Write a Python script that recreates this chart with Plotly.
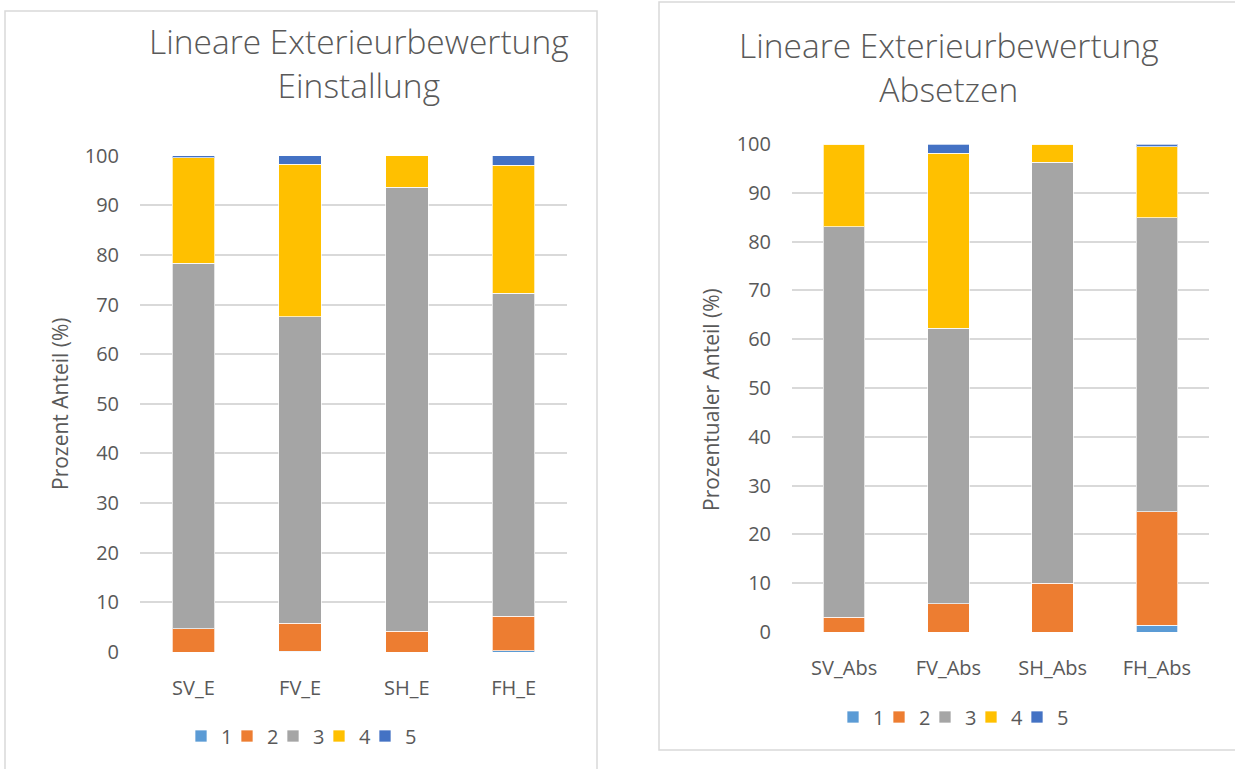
import plotly.graph_objects as go

W, H = 1235, 769

# ---------------- data ----------------
series_names = ["1", "2", "3", "4", "5"]
colors = ["#5B9BD5", "#ED7D31", "#A5A5A5", "#FFC000", "#4472C4"]

cats_left = ["SV_E", "FV_E", "SH_E", "FH_E"]
left_1 = [0.0, 0.2, 0.0, 0.3]
left_2 = [4.7, 5.6, 4.2, 6.95]
left_3 = [73.6, 61.8, 89.4, 65.05]
left_4 = [21.3, 30.7, 6.4, 25.8]
left_5 = [0.4, 1.7, 0.0, 1.9]

cats_right = ["SV_Abs", "FV_Abs", "SH_Abs", "FH_Abs"]
right_1 = [0.0, 0.0, 0.0, 1.4]
right_2 = [3.0, 5.8, 10.0, 23.25]
right_3 = [80.05, 56.4, 86.25, 60.25]
right_4 = [16.95, 35.9, 3.75, 14.5]
right_5 = [0.0, 1.9, 0.0, 0.6]

y_ticks = [0, 10, 20, 30, 40, 50, 60, 70, 80, 90, 100]

title_left = "Lineare Exterieurbewertung<br>Einstallung"
title_right = "Lineare Exterieurbewertung<br>Absetzen"
ytitle_left = "Prozent Anteil (%)"
ytitle_right = "Prozentualer Anteil (%)"

# ---------------- figure ----------------
FONT = "Open Sans"
TXT = "#595959"
GRID = "#D9D9D9"


def px_x(x):
    return x / W


def px_y(y):
    return 1 - y / H


fig = go.Figure()

left_vals = [left_1, left_2, left_3, left_4, left_5]
right_vals = [right_1, right_2, right_3, right_4, right_5]

bar_line = dict(color="rgba(255,255,255,0.7)", width=1)

for name, col, vals in zip(series_names, colors, left_vals):
    fig.add_trace(go.Bar(x=cats_left, y=vals, name=name, marker_color=col,
                         marker_line=bar_line,
                         xaxis="x", yaxis="y", legend="legend"))
# transparent spacer entry so the last legend label is not clipped
fig.add_trace(go.Bar(x=[cats_left[0]], y=[0], name=" ", marker_color="rgba(0,0,0,0)",
                     marker_line_width=0, hoverinfo="skip",
                     xaxis="x", yaxis="y", legend="legend"))

for name, col, vals in zip(series_names, colors, right_vals):
    fig.add_trace(go.Bar(x=cats_right, y=vals, name=name, marker_color=col,
                         marker_line=bar_line,
                         xaxis="x2", yaxis="y2", legend="legend2"))
fig.add_trace(go.Bar(x=[cats_right[0]], y=[0], name=" ", marker_color="rgba(0,0,0,0)",
                     marker_line_width=0, hoverinfo="skip",
                     xaxis="x2", yaxis="y2", legend="legend2"))

axis_common = dict(showline=False, zeroline=False, ticks="", automargin=False,
                   tickfont=dict(family=FONT, size=20, color=TXT))

legend_common = dict(orientation="h", xanchor="left", yanchor="middle",
                     entrywidth=1, traceorder="normal",
                     font=dict(family=FONT, size=20, color=TXT),
                     bgcolor="rgba(0,0,0,0)")

fig.update_layout(
    template="none",
    width=W, height=H,
    margin=dict(l=0, r=0, t=0, b=0, autoexpand=False),
    paper_bgcolor="white", plot_bgcolor="white",
    barmode="stack", bargap=0.6,
    font=dict(family=FONT, color=TXT),
    xaxis=dict(domain=[px_x(140), px_x(567)], anchor="y", showgrid=False,
               ticklabelstandoff=22, **axis_common),
    yaxis=dict(domain=[px_y(652), px_y(155.7)], anchor="x", range=[0, 100],
               tickvals=y_ticks, showgrid=True, gridcolor=GRID, gridwidth=1.5,
               ticklabelstandoff=20, **axis_common),
    xaxis2=dict(domain=[px_x(792), px_x(1209)], anchor="y2", showgrid=False,
                ticklabelstandoff=22, **axis_common),
    yaxis2=dict(domain=[px_y(632), px_y(144)], anchor="x2", range=[0, 100],
                tickvals=y_ticks, showgrid=True, gridcolor=GRID, gridwidth=1.5,
                ticklabelstandoff=20, **axis_common),
    legend=dict(x=px_x(181), y=px_y(736), **legend_common),
    legend2=dict(x=px_x(833), y=px_y(717), **legend_common),
    showlegend=True,
)

# panel borders
fig.add_shape(type="rect", xref="paper", yref="paper",
              x0=px_x(5), x1=px_x(597), y0=px_y(790), y1=px_y(11),
              line=dict(color=GRID, width=1.5), fillcolor="rgba(0,0,0,0)", layer="below")
fig.add_shape(type="rect", xref="paper", yref="paper",
              x0=px_x(659), x1=px_x(1250), y0=px_y(750), y1=px_y(2),
              line=dict(color=GRID, width=1.5), fillcolor="rgba(0,0,0,0)", layer="below")

# titles
title_font = dict(family=FONT, size=33.5, color=TXT, weight=300)
fig.add_annotation(text=title_left, xref="paper", yref="paper",
                   x=px_x(359), y=px_y(63), xanchor="center", yanchor="middle",
                   showarrow=False, font=title_font)
fig.add_annotation(text=title_right, xref="paper", yref="paper",
                   x=px_x(949), y=px_y(67), xanchor="center", yanchor="middle",
                   showarrow=False, font=title_font)

# axis titles
fig.add_annotation(text=ytitle_left, xref="paper", yref="paper",
                   x=px_x(60), y=px_y(404), xanchor="center", yanchor="middle",
                   textangle=-90, showarrow=False,
                   font=dict(family=FONT, size=21, color=TXT))
fig.add_annotation(text=ytitle_right, xref="paper", yref="paper",
                   x=px_x(711), y=px_y(400), xanchor="center", yanchor="middle",
                   textangle=-90, showarrow=False,
                   font=dict(family=FONT, size=21, color=TXT))

fig.write_html("out.html", config={"displayModeBar": False},
               post_script="document.body.style.margin='0';")
